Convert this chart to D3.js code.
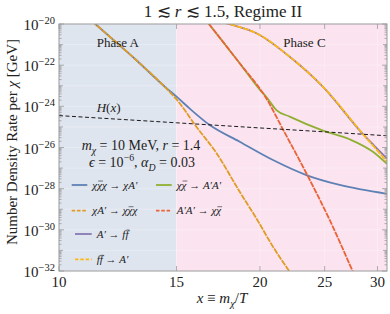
<!DOCTYPE html>
<html>
<head>
<meta charset="utf-8">
<script src="https://cdnjs.cloudflare.com/ajax/libs/d3/7.8.5/d3.min.js"></script>
<style>
  body { margin: 0; background: #fff; }
  text { font-family: "Liberation Serif", "Times New Roman", serif; fill: #222; }
</style>
</head>
<body>
<script>

// x = m_chi / T, rates stored as log10 of the rate in GeV
var xTicks = [10, 15, 20, 25, 30];
var yLabelExps = [-20, -22, -24, -26, -28, -30, -32];

var blueX   = [11.0, 11.38, 13.0, 14.49, 15.0, 15.7, 16.82, 18.65, 20.92, 23.47, 26.33, 31.0];
var blueLog = [-19.62, -20.05, -21.70, -23.12, -23.53, -24.11, -24.91, -25.72, -26.61, -27.34, -27.82, -28.25];

var orangeX   = [11.0, 11.38, 13.0, 14.49, 15.0, 16.07, 17.22, 18.65, 19.76, 20.92, 22.16, 22.6];
var orangeLog = [-19.62, -20.05, -21.70, -23.14, -23.66, -25.0, -26.28, -28.15, -29.45, -30.82, -32.04, -32.45];

var greenX   = [16.5, 16.82, 18.65, 20.0, 20.45, 21.17, 22.16, 24.86, 27.25, 29.53, 31.0];
var greenLog = [-19.71, -20.05, -21.91, -23.2, -23.55, -24.18, -24.50, -25.18, -25.60, -26.21, -26.8];

var redX   = [16.5, 16.82, 18.65, 20.45, 21.66, 23.47, 25.44, 27.56, 28.0];
var redLog = [-19.71, -20.05, -21.91, -23.62, -25.13, -27.25, -29.52, -32.04, -32.55];

var purpleX   = [17.2, 18.21, 19.76, 22.16, 24.86, 28.54, 29.6, 31.0];
var purpleLog = [-19.85, -20.05, -20.45, -21.59, -23.05, -25.35, -25.88, -26.53];

var yellowX   = [17.2, 18.21, 19.76, 22.16, 24.86, 28.54, 29.6, 31.0];
var yellowLog = [-19.85, -20.05, -20.45, -21.59, -23.05, -25.35, -25.94, -26.69];

var hubbleX   = [10, 15, 20, 25, 31];
var hubbleLog = [-24.45, -24.80, -25.05, -25.24, -25.43];

var phaseEdge = 15;

var outerWidth = 390, outerHeight = 314;
var margin = { left: 59, top: 24, right: 3, bottom: 43 };
var innerWidth  = outerWidth  - margin.left - margin.right;
var innerHeight = outerHeight - margin.top  - margin.bottom;

var svg = d3.select("body").append("svg")
  .attr("width", outerWidth)
  .attr("height", outerHeight);
var g = svg.append("g")
  .attr("transform", "translate(" + margin.left + "," + margin.top + ")");

var xScale = d3.scaleLog().domain([10, 31]).range([margin.left, margin.left + innerWidth]);
var yScale = d3.scaleLog().domain([1e-32, 1e-20]).range([margin.top + innerHeight, margin.top]);
var X0 = margin.left, X1 = margin.left + innerWidth, Y0 = margin.top, Y1 = margin.top + innerHeight;

// text with italic / sub / sup parts; overlined parts get a drawn bar
function rich(parent, x, y, anchor, parts, size) {
  var sel = parent.append("text").attr("x", x).attr("y", y).attr("text-anchor", anchor)
    .style("font-size", size + "px");
  var idx = 0, bars = [];
  parts.forEach(function (p) {
    var ts = sel.append("tspan").text(p.t);
    if (p.sub) ts.attr("baseline-shift", (-size * 0.28) + "px");
    if (p.sup) ts.attr("baseline-shift", (size * 0.42) + "px");
    if (p.sub || p.sup) ts.style("font-size", (size * 0.7) + "px");
    if (p.i) ts.style("font-style", "italic");
    if (p.o) bars.push([idx, idx + p.t.length - 1]);
    idx += p.t.length;
  });
  var node = sel.node();
  bars.forEach(function (b) {
    var a = node.getStartPositionOfChar(b[0]);
    var e = node.getEndPositionOfChar(b[1]);
    parent.append("line")
      .attr("x1", a.x + 1).attr("x2", e.x + 1)
      .attr("y1", y - size * 0.68).attr("y2", y - size * 0.68)
      .attr("stroke", "#222").attr("stroke-width", 0.6);
  });
  return sel;
}

var plot = svg.append("g");

// background phases
plot.append("rect")
  .attr("x", X0).attr("y", Y0)
  .attr("width", xScale(phaseEdge) - X0).attr("height", innerHeight)
  .attr("fill", "#dfe5ef");
plot.append("rect")
  .attr("x", xScale(phaseEdge)).attr("y", Y0)
  .attr("width", X1 - xScale(phaseEdge)).attr("height", innerHeight)
  .attr("fill", "#fbe4f0");

// faint grid
var decades = d3.range(-32, -19).map(function (e) { return Math.pow(10, e); });
plot.selectAll(".gy").data(decades).enter().append("line")
  .attr("x1", X0).attr("x2", X1)
  .attr("y1", function (d) { return yScale(d); })
  .attr("y2", function (d) { return yScale(d); })
  .attr("stroke", "#ffffff").attr("stroke-opacity", 0.45).attr("stroke-width", 0.6);
plot.selectAll(".gx").data(xTicks.slice(1)).enter().append("line")
  .attr("y1", Y0).attr("y2", Y1)
  .attr("x1", function (d) { return xScale(d); })
  .attr("x2", function (d) { return xScale(d); })
  .attr("stroke", "#ffffff").attr("stroke-opacity", 0.45).attr("stroke-width", 0.6);

// curves
svg.append("clipPath").attr("id", "clip").append("rect")
  .attr("x", X0).attr("y", Y0)
  .attr("width", innerWidth).attr("height", innerHeight);

var line = d3.line()
  .x(function (d) { return xScale(d[0]); })
  .y(function (d) { return yScale(Math.pow(10, d[1])); })
  .curve(d3.curveMonotoneX);

function pairs(xs, ls) { return xs.map(function (x, i) { return [x, ls[i]]; }); }

var series = [
  { x: blueX,   v: blueLog,   color: "#5e81b5", dash: null },
  { x: greenX,  v: greenLog,  color: "#8fb032", dash: null },
  { x: purpleX, v: purpleLog, color: "#8778b3", dash: null },
  { x: orangeX, v: orangeLog, color: "#e19c24", dash: "6,1" },
  { x: redX,    v: redLog,    color: "#eb6235", dash: "6,1" },
  { x: yellowX, v: yellowLog, color: "#fdb813", dash: "6,1" }
];

var curves = plot.append("g").attr("clip-path", "url(#clip)");
series.forEach(function (s) {
  curves.append("path")
    .attr("d", line(pairs(s.x, s.v)))
    .attr("fill", "none")
    .attr("stroke", s.color)
    .attr("stroke-width", 1.8)
    .attr("stroke-dasharray", s.dash);
});
curves.append("path")
  .attr("d", line(pairs(hubbleX, hubbleLog)))
  .attr("fill", "none")
  .attr("stroke", "#1a1a1a")
  .attr("stroke-width", 1)
  .attr("stroke-dasharray", "4,2.5");

// frame and ticks
var axisColor = "#9a9a9a";
plot.append("rect")
  .attr("x", X0).attr("y", Y0)
  .attr("width", innerWidth).attr("height", innerHeight)
  .attr("fill", "none").attr("stroke", axisColor).attr("stroke-width", 1);

var yTickData = [];
d3.range(-32, -20).forEach(function (e) {
  for (var k = 1; k < 10; k++) yTickData.push({ v: k * Math.pow(10, e), len: k === 1 ? ((e % 2 === 0) ? 5 : 4) : 2.5 });
});
yTickData.push({ v: 1e-20, len: 5 });

[X0, X1].forEach(function (x0, side) {
  plot.selectAll(".ty" + side).data(yTickData).enter().append("line")
    .attr("x1", x0)
    .attr("x2", function (d) { return side === 0 ? x0 + d.len : x0 - d.len; })
    .attr("y1", function (d) { return yScale(d.v); })
    .attr("y2", function (d) { return yScale(d.v); })
    .attr("stroke", axisColor).attr("stroke-width", 0.8);
});
[Y1, Y0].forEach(function (y0, side) {
  plot.selectAll(".tx" + side).data(xTicks).enter().append("line")
    .attr("y1", y0)
    .attr("y2", side === 0 ? y0 - 5 : y0 + 5)
    .attr("x1", function (d) { return xScale(d); })
    .attr("x2", function (d) { return xScale(d); })
    .attr("stroke", axisColor).attr("stroke-width", 0.8);
});

// tick labels
svg.selectAll(".xl").data(xTicks).enter().append("text")
  .attr("x", function (d) { return xScale(d); })
  .attr("y", Y1 + 16)
  .attr("text-anchor", "middle")
  .style("font-size", "15px")
  .text(function (d) { return d; });

yLabelExps.forEach(function (e) {
  rich(svg, X0 - 4, yScale(Math.pow(10, e)) + 6, "end",
    [{ t: "10" }, { t: "\u2212" + Math.abs(e), sup: true }], 15);
});

// title and axis titles
rich(svg, 223, 17, "middle",
  [{ t: "1 \u2272 " }, { t: "r", i: true }, { t: " \u2272 1.5, Regime II" }], 17);

rich(svg, 222, 303, "middle",
  [{ t: "x", i: true }, { t: " \u2261 " }, { t: "m", i: true }, { t: "\u03c7", i: true, sub: true }, { t: "/" }, { t: "T", i: true }], 15);

var yTitle = svg.append("g").attr("transform", "translate(17,142) rotate(-90)");
rich(yTitle, 0, 0, "middle",
  [{ t: "Number Density Rate per " }, { t: "\u03c7", i: true }, { t: " [GeV]" }], 15);

// annotations
svg.append("text").attr("x", 96.7).attr("y", 46.7)
  .style("font-size", "13px").text("Phase A");
svg.append("text").attr("x", 283.3).attr("y", 46.7)
  .style("font-size", "13px").text("Phase C");
rich(svg, 96.7, 112, "start",
  [{ t: "H", i: true }, { t: "(" }, { t: "x", i: true }, { t: ")" }], 13);

rich(svg, 141, 150, "middle",
  [{ t: "m", i: true }, { t: "\u03c7", i: true, sub: true }, { t: " = 10 MeV, " }, { t: "r", i: true }, { t: " = 1.4" }], 14);
rich(svg, 142, 167, "middle",
  [{ t: "\u03f5", i: true }, { t: " = 10" }, { t: "\u22126", sup: true }, { t: ", " }, { t: "\u03b1", i: true }, { t: "D", i: true, sub: true }, { t: " = 0.03" }], 14);

// legend
var legendItems = [
  { x0: 71.7, x1: 87.3, tx: 92.3, y: 185, color: "#5e81b5", dash: null,
    parts: [{ t: "\u03c7", i: true }, { t: "\u03c7", i: true, o: true }, { t: "\u03c7", i: true }, { t: " \u2192 " }, { t: "\u03c7A\u2032", i: true }] },
  { x0: 156, x1: 171.7, tx: 176.7, y: 185, color: "#8fb032", dash: null,
    parts: [{ t: "\u03c7", i: true }, { t: "\u03c7", i: true, o: true }, { t: " \u2192 " }, { t: "A\u2032A\u2032", i: true }] },
  { x0: 71.7, x1: 87.3, tx: 92.3, y: 210.7, color: "#e19c24", dash: "3.5,1.8",
    parts: [{ t: "\u03c7A\u2032", i: true }, { t: " \u2192 " }, { t: "\u03c7", i: true }, { t: "\u03c7", i: true, o: true }, { t: "\u03c7", i: true }] },
  { x0: 156, x1: 171.7, tx: 176.7, y: 210.7, color: "#eb6235", dash: "3.5,1.8",
    parts: [{ t: "A\u2032A\u2032", i: true }, { t: " \u2192 " }, { t: "\u03c7", i: true }, { t: "\u03c7", i: true, o: true }] },
  { x0: 75, x1: 91.7, tx: 96.7, y: 234, color: "#8778b3", dash: null,
    parts: [{ t: "A\u2032", i: true }, { t: " \u2192 " }, { t: "f", i: true }, { t: "f", i: true, o: true }] },
  { x0: 75, x1: 91.7, tx: 96.7, y: 259.3, color: "#fdb813", dash: "3.5,1.8",
    parts: [{ t: "f", i: true }, { t: "f", i: true, o: true }, { t: " \u2192 " }, { t: "A\u2032", i: true }] }
];

var legend = svg.append("g");
legendItems.forEach(function (it) {
  legend.append("line")
    .attr("x1", it.x0).attr("x2", it.x1)
    .attr("y1", it.y).attr("y2", it.y)
    .attr("stroke", it.color).attr("stroke-width", 1.8)
    .attr("stroke-dasharray", it.dash);
  rich(legend, it.tx, it.y + 3.5, "start", it.parts, 11);
});

</script>
</body>
</html>
